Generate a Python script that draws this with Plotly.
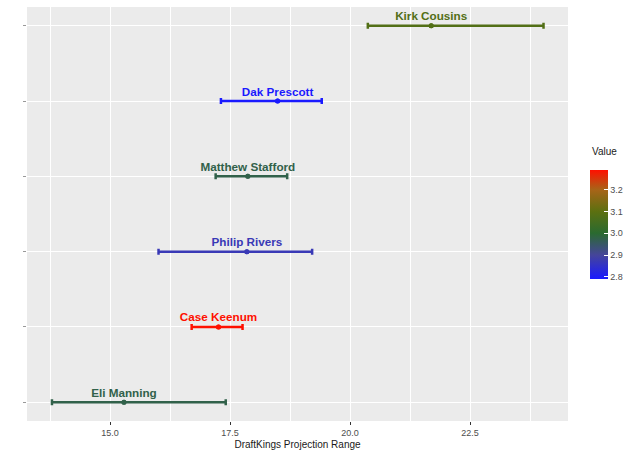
import plotly.graph_objects as go
from plotly.colors import sample_colorscale

# Data (bottom to top)
players = ["Eli Manning", "Case Keenum", "Philip Rivers", "Matthew Stafford", "Dak Prescott", "Kirk Cousins"]
rank = [1, 2, 3, 4, 5, 6]
proj_low = [13.79, 16.70, 16.01, 17.20, 17.31, 20.37]
proj_mid = [15.29, 17.26, 17.85, 17.87, 18.49, 21.69]
proj_high = [17.41, 17.76, 19.21, 18.69, 19.41, 24.03]
value = [2.975, 3.29, 2.87, 2.975, 2.79, 3.08]

x_ticks = [15.0, 17.5, 20.0, 22.5]
x_minor = [13.75, 16.25, 18.75, 21.25, 23.75]
cb_ticks = [2.8, 2.9, 3.0, 3.1, 3.2]

vmin, vmax = 2.79, 3.29
colorscale = [
    [0.0, "#1a1aff"],
    [0.22, "#45459a"],
    [0.42, "#2a6a30"],
    [0.62, "#5c7010"],
    [0.82, "#a86418"],
    [1.0, "#ff1000"],
]

# colour for each player from the same scale the colorbar uses
colors = sample_colorscale(colorscale, [(v - vmin) / (vmax - vmin) for v in value])
FONT = "Liberation Sans, Arial, sans-serif"

fig = go.Figure()

# one trace per player so each range bar gets its own colour
for i, name in enumerate(players):
    fig.add_trace(go.Scatter(
        x=[proj_mid[i]], y=[rank[i]],
        mode="markers",
        marker=dict(size=5, color=colors[i]),
        error_x=dict(
            type="data", symmetric=False,
            array=[proj_high[i] - proj_mid[i]],
            arrayminus=[proj_mid[i] - proj_low[i]],
            color=colors[i], thickness=2.5, width=3,
        ),
        showlegend=False, hoverinfo="skip",
    ))

# labels sit just above the point estimate (invisible marker sets the gap)
fig.add_trace(go.Scatter(
    x=proj_mid, y=rank,
    mode="markers+text",
    text=players,
    textposition="top center",
    textfont=dict(family=FONT, size=11.7, color=colors, weight="bold"),
    marker=dict(size=2.5, opacity=0),
    showlegend=False, hoverinfo="skip",
))

# points again, this one carries the colorbar
fig.add_trace(go.Scatter(
    x=proj_mid, y=rank,
    mode="markers",
    marker=dict(
        size=5, color=value, colorscale=colorscale, cmin=vmin, cmax=vmax,
        showscale=True,
        colorbar=dict(
            tickvals=cb_ticks, ticktext=["2.8", "2.9", "3.0", "3.1", "3.2"],
            ticks="inside", ticklen=4, tickcolor="white", tickwidth=1,
            tickfont=dict(size=9, color="#4d4d4d"),
            thickness=18, lenmode="pixels", len=108.6,
            x=1.0407, xanchor="left", xpad=0,
            y=0.343, yanchor="bottom", ypad=0,
            outlinewidth=0,
        ),
    ),
    showlegend=False,
))

# legend title placed like ggplot's, well above the bar
fig.add_annotation(
    text="Value", xref="paper", yref="paper", x=1.0407, y=0.652,
    xanchor="left", yanchor="middle", showarrow=False,
    font=dict(size=10, color="#1a1a1a"),
)

fig.update_layout(
    width=640, height=457,
    margin=dict(l=27, r=72, t=7, b=36),
    paper_bgcolor="white",
    plot_bgcolor="#EBEBEB",
    font=dict(family=FONT),
    xaxis=dict(
        range=[13.27, 24.54],
        tickvals=x_ticks, ticktext=["15.0", "17.5", "20.0", "22.5"],
        tickfont=dict(size=9, color="#4d4d4d"),
        ticks="outside", ticklen=3, tickcolor="#333333",
        showgrid=True, gridcolor="white", gridwidth=1.1,
        minor=dict(tickvals=x_minor, showgrid=True, gridcolor="white", gridwidth=0.5),
        zeroline=False, showline=False,
        title=dict(text="DraftKings Projection Range", font=dict(size=10, color="#1a1a1a"), standoff=4),
    ),
    yaxis=dict(
        range=[0.75, 6.25],
        tickvals=rank, showticklabels=False,
        ticks="outside", ticklen=3, tickcolor="#999999",
        showgrid=True, gridcolor="white", gridwidth=1.1,
        zeroline=False, showline=False,
    ),
)

# page body has a default 8px margin; drop it so the figure sits at 0,0
fig.write_html(
    "out.html",
    config={"displayModeBar": False},
    post_script="document.body.style.margin='0';",
)
